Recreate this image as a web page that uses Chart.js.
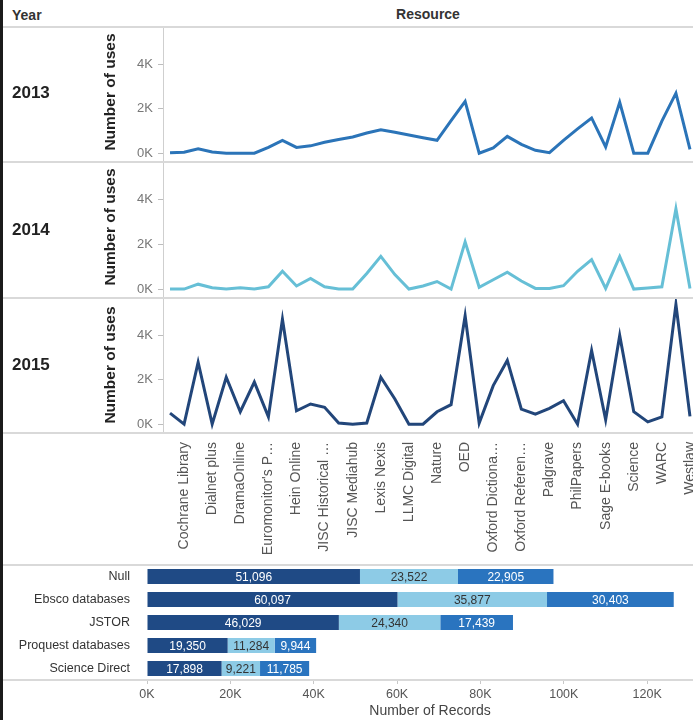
<!DOCTYPE html>
<html>
<head>
<meta charset="utf-8">
<title>Resource usage by year</title>
<script src="https://cdn.jsdelivr.net/npm/chart.js@4.4.1/dist/chart.umd.min.js"></script>
<style>
  html, body { margin: 0; padding: 0; width: 693px; height: 720px; overflow: hidden; background: #fff; }
  body { position: relative; font-family: "Liberation Sans", Arial, sans-serif; }
  .box { position: absolute; left: 0; }
  .rule { position: absolute; left: 0; width: 693px; height: 2px; background: #d9d9d9; }
  .edge { position: absolute; left: 0; top: 0; width: 3px; height: 720px; background: #1b1b1b; }
  .head { position: absolute; font-weight: bold; font-size: 14px; color: #333; transform: translateY(-50%); }
  .year { position: absolute; left: 12px; font-weight: bold; font-size: 17px; color: #222; transform: translateY(-50%); }
  .ytitle { position: absolute; left: 110px; font-weight: bold; font-size: 15.5px; color: #222; white-space: nowrap;
            transform: translate(-50%, -50%) rotate(-90deg); }
  .xtitle { position: absolute; font-size: 14px; color: #444; white-space: nowrap; transform: translate(-50%, -50%); }
</style>
</head>
<body>
<div class="box" style="top:27px;width:697px;height:135px"><canvas id="uses2013"></canvas></div>
<div class="box" style="top:162px;width:697px;height:136px"><canvas id="uses2014"></canvas></div>
<div class="box" style="top:298px;width:697px;height:260px"><canvas id="uses2015"></canvas></div>
<div class="box" style="top:565px;width:693px;height:140px"><canvas id="records"></canvas></div>

<div class="rule" style="top:26px"></div>
<div class="rule" style="top:161px"></div>
<div class="rule" style="top:297px"></div>
<div class="rule" style="top:432px"></div>
<div class="rule" style="top:564px"></div>
<div class="rule" style="top:679px"></div>
<div class="edge"></div>

<div class="head" style="left:12px;top:15px">Year</div>
<div class="head" style="left:428px;top:14px;transform:translate(-50%,-50%)">Resource</div>
<div class="year" style="top:93px">2013</div>
<div class="year" style="top:230px">2014</div>
<div class="year" style="top:365px">2015</div>
<div class="ytitle" style="top:92px">Number of uses</div>
<div class="ytitle" style="top:227px">Number of uses</div>
<div class="ytitle" style="top:365px">Number of uses</div>
<div class="xtitle" style="left:430px;top:710px">Number of Records</div>

<script>
// Resources shown on the axis (every second category has its label hidden)
const resources = ['Cochrane Library', 'Dialnet plus', 'DramaOnline', "Euromonitor's P\u2026", 'Hein Online',
    'JISC Historical \u2026', 'JISC Mediahub', 'Lexis Nexis', 'LLMC Digital', 'Nature', 'OED',
    'Oxford Dictiona\u2026', 'Oxford Referen\u2026', 'Palgrave', 'PhilPapers', 'Sage E-books', 'Science',
    'WARC', 'Westlaw'];

// Number of uses per resource, one list per year
const uses2013 = [20, 40, 200, 50, 0, 0, 0, 260, 580, 260, 330, 490, 620, 730, 910, 1060, 940, 820, 700,
    580, 1470, 2340, 0, 240, 760, 400, 130, 20, 580, 1100, 1590, 280, 2300, 0, 0, 1450, 2710, 170];
const uses2014 = [0, 0, 220, 60, 0, 60, 0, 100, 800, 140, 480, 100, 0, 0, 700, 1470, 650, 0, 140,
    340, 0, 2120, 80, 420, 760, 360, 30, 30, 150, 800, 1320, 30, 1460, 0, 50, 100, 3600, 30];
const uses2015 = [500, 0, 2800, 0, 2120, 560, 1900, 330, 4740, 600, 910, 760, 50, 0, 50, 2120, 1140, 0, 0,
    560, 880, 4900, 50, 1740, 2880, 680, 450, 710, 1060, 0, 3330, 200, 4010, 560, 100, 330, 5410, 350];
const usesTicks = [0, 2000, 4000];

// Records by source
const sources = ['Null', 'Ebsco databases', 'JSTOR', 'Proquest databases', 'Science Direct'];
const records2015 = [51096, 60097, 46029, 19350, 17898];
const records2014 = [23522, 35877, 24340, 11284, 9221];
const records2013 = [22905, 30403, 17439, 9944, 11785];
const recordTicks = [0, 20000, 40000, 60000, 80000, 100000, 120000];

// Build the category list: hidden slot, then a named resource, alternating
const axisLabels = [];
resources.forEach(name => {
    axisLabels.push('');
    axisLabels.push(name);
});

Chart.defaults.font.family = '"Liberation Sans", Arial, sans-serif';

function makeUsesChart(canvasId, values, color, showLabels) {
    return new Chart(document.getElementById(canvasId), {
        type: 'line',
        data: {
            labels: axisLabels,
            datasets: [{
                data: values,
                borderColor: color,
                borderWidth: 3,
                pointRadius: 0,
                tension: 0,
                fill: false
            }]
        },
        options: {
            responsive: true,
            maintainAspectRatio: false,
            animation: false,
            layout: { padding: 0, autoPadding: false },
            plugins: { legend: { display: false }, tooltip: { enabled: false } },
            scales: {
                x: {
                    offset: true,
                    display: showLabels,
                    grid: { display: false },
                    border: { display: false },
                    ticks: {
                        autoSkip: false,
                        maxRotation: 90,
                        minRotation: 90,
                        padding: 1,
                        color: '#555',
                        font: { size: 14 }
                    },
                    afterFit: function(scale) {
                        scale.paddingLeft = 0;
                        scale.paddingRight = 0;
                        if (showLabels) scale.height = 125;
                    }
                },
                y: {
                    min: -400,
                    max: 5700,
                    afterBuildTicks: function(scale) {
                        scale.ticks = usesTicks.map(v => ({ value: v }));
                    },
                    grid: { drawOnChartArea: false, tickLength: 5, color: '#bdbdbd' },
                    border: { color: '#cfcfcf' },
                    ticks: {
                        padding: 5,
                        color: '#777',
                        font: { size: 13 },
                        callback: v => (v / 1000) + 'K'
                    },
                    afterFit: function(scale) {
                        scale.width = 163;
                        scale.paddingTop = 0;
                        scale.paddingBottom = 0;
                    }
                }
            }
        }
    });
}

makeUsesChart('uses2013', uses2013, '#2b74b8', false);
makeUsesChart('uses2014', uses2014, '#66bfd6', false);
makeUsesChart('uses2015', uses2015, '#22467a', true);

// Value labels centred inside each bar segment
const segmentLabels = {
    id: 'segmentLabels',
    afterDatasetsDraw(chart) {
        const ctx = chart.ctx;
        ctx.save();
        ctx.font = '12px "Liberation Sans", Arial, sans-serif';
        ctx.textAlign = 'center';
        ctx.textBaseline = 'middle';
        chart.data.datasets.forEach((ds, di) => {
            chart.getDatasetMeta(di).data.forEach((bar, i) => {
                ctx.fillStyle = ds.labelColor;
                ctx.fillText(ds.data[i].toLocaleString('en-US'), (bar.x + bar.base) / 2, bar.y + 1);
            });
        });
        ctx.restore();
    }
};

new Chart(document.getElementById('records'), {
    type: 'bar',
    data: {
        labels: sources,
        datasets: [
            { label: '2015', data: records2015, backgroundColor: '#1f4a85', labelColor: '#fff' },
            { label: '2014', data: records2014, backgroundColor: '#8dcbe6', labelColor: '#333' },
            { label: '2013', data: records2013, backgroundColor: '#2a74bf', labelColor: '#fff' }
        ]
    },
    options: {
        indexAxis: 'y',
        responsive: true,
        maintainAspectRatio: false,
        animation: false,
        layout: { padding: 0, autoPadding: false },
        datasets: { bar: { barPercentage: 0.66, categoryPercentage: 1 } },
        plugins: { legend: { display: false }, tooltip: { enabled: false } },
        scales: {
            x: {
                stacked: true,
                min: 0,
                max: 131000,
                afterBuildTicks: function(scale) {
                    scale.ticks = recordTicks.map(v => ({ value: v }));
                },
                grid: { drawOnChartArea: false, tickLength: 4, color: '#c8c8c8' },
                border: { display: false },
                ticks: {
                    padding: 3,
                    color: '#555',
                    font: { size: 12.5 },
                    callback: v => (v / 1000) + 'K'
                },
                afterFit: function(scale) {
                    scale.height = 25;
                    scale.paddingLeft = 0;
                    scale.paddingRight = 0;
                }
            },
            y: {
                stacked: true,
                grid: { display: false },
                border: { display: false },
                ticks: { padding: 9, color: '#333', font: { size: 12.5 } },
                afterFit: function(scale) {
                    scale.width = 147;
                    scale.paddingTop = 0;
                    scale.paddingBottom = 0;
                }
            }
        }
    },
    plugins: [segmentLabels]
});
</script>
</body>
</html>
